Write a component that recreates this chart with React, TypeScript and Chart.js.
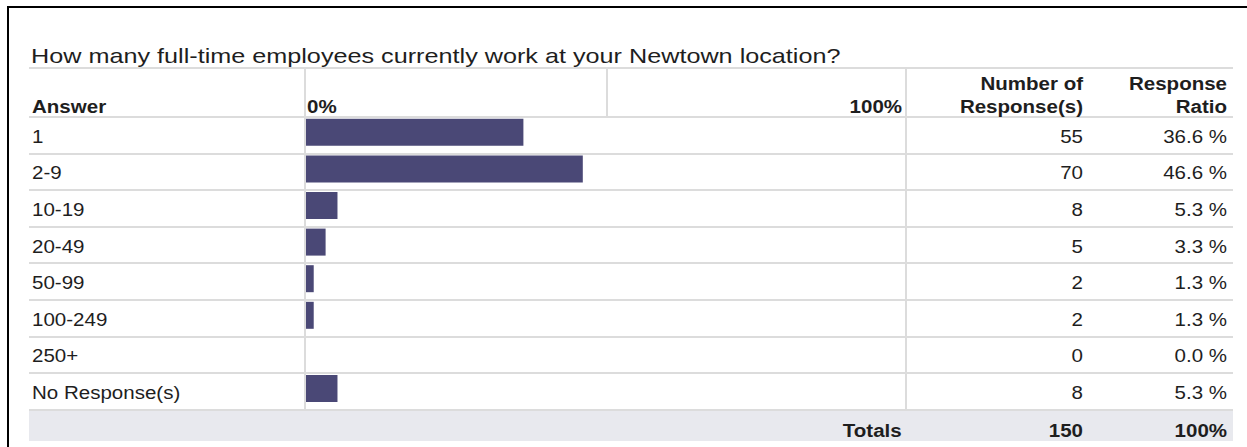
import React, { useEffect, useRef } from "react";
import { Chart, registerables } from "chart.js";

Chart.register(...registerables);

const TITLE = "How many full-time employees currently work at your Newtown location?";
const categories = ["1", "2-9", "10-19", "20-49", "50-99", "100-249", "250+", "No Response(s)"];
const responseCounts = [55, 70, 8, 5, 2, 2, 0, 8];
const responseRatios = [36.6, 46.6, 5.3, 3.3, 1.3, 1.3, 0.0, 5.3];
const axisTickLabels = ["0%", "100%"];
const totalCount = 150;
const totalRatioLabel = "100%";

const FONT = '"Liberation Sans", Arial, Helvetica, sans-serif';
const TEXT = "#1e1e1e";
const LINE = "#dcdcdc";
const BAR = "#4a4876";

const TABLE_L = 29;
const TABLE_R = 1233;
const HEAD_TOP = 68;
const HEAD_BOT = 117;
const ROW_H = 36.6;
const TOT_TOP = HEAD_BOT + ROW_H * categories.length;
const TOT_BOT = 441;
const COL_BAR = 305;
const COL_MID = 607;
const COL_NUM = 906;
const BODY = 18;
const BODY_SX = 1.14;

type TxtProps = {
  text: string;
  x: number;
  baseline: number;
  size: number;
  sx: number;
  bold?: boolean;
  align?: "left" | "right";
};

function Txt({ text, x, baseline, size, sx, bold, align = "left" }: TxtProps) {
  const top = baseline - 0.8465 * size;
  const style: React.CSSProperties = {
    position: "absolute",
    top,
    fontFamily: FONT,
    fontSize: size,
    lineHeight: `${size}px`,
    fontWeight: bold ? 700 : 400,
    color: TEXT,
    whiteSpace: "nowrap",
    transform: `scaleX(${sx})`,
    transformOrigin: align === "left" ? "left center" : "right center",
  };
  if (align === "left") style.left = x;
  else style.right = 1247 - x;
  return <div style={style}>{text}</div>;
}

function HLine({ y, x1, x2 }: { y: number; x1: number; x2: number }) {
  return (
    <div style={{ position: "absolute", left: x1, top: y - 1, width: x2 - x1, height: 2, background: LINE }} />
  );
}

function VLine({ x, y1, y2 }: { x: number; y1: number; y2: number }) {
  return (
    <div style={{ position: "absolute", left: x - 1, top: y1, width: 2, height: y2 - y1, background: LINE }} />
  );
}

function BarChart() {
  const ref = useRef<HTMLCanvasElement | null>(null);
  useEffect(() => {
    if (!ref.current) return;
    const chart = new Chart(ref.current, {
      type: "bar",
      data: {
        labels: categories,
        datasets: [
          {
            data: responseRatios,
            backgroundColor: BAR,
            borderWidth: 0,
            barPercentage: 27 / ROW_H,
            categoryPercentage: 1,
          },
        ],
      },
      options: {
        indexAxis: "y",
        animation: false,
        responsive: true,
        maintainAspectRatio: false,
        layout: { padding: 0 },
        plugins: { legend: { display: false }, tooltip: { enabled: false }, title: { display: false } },
        scales: {
          x: { min: 0, max: 100, display: false, grid: { display: false } },
          y: { display: false, grid: { display: false } },
        },
      },
    });
    return () => chart.destroy();
  }, []);
  return (
    <div
      style={{
        position: "absolute",
        left: COL_BAR + 1,
        top: HEAD_BOT - 3.3,
        width: 594,
        height: ROW_H * categories.length,
      }}
    >
      <canvas ref={ref} />
    </div>
  );
}

export default function App() {
  const rowLines = categories.map((_, i) => HEAD_BOT + ROW_H * (i + 1));
  return (
    <div
      style={{
        position: "absolute",
        left: 0,
        top: 0,
        width: 1247,
        height: 447,
        background: "#fff",
        overflow: "hidden",
      }}
    >
      {/* outer frame */}
      <div
        style={{
          position: "absolute",
          left: 7,
          top: 6,
          width: 1260,
          height: 460,
          borderTop: "2px solid #000",
          borderLeft: "2px solid #000",
        }}
      />
      <Txt text={TITLE} x={31} baseline={63} size={21} sx={1.2} />

      {/* totals row background */}
      <div
        style={{
          position: "absolute",
          left: TABLE_L,
          top: TOT_TOP,
          width: TABLE_R - TABLE_L,
          height: TOT_BOT - TOT_TOP,
          background: "#e8e9ee",
        }}
      />

      {/* grid lines */}
      <HLine y={HEAD_TOP} x1={TABLE_L} x2={TABLE_R} />
      <HLine y={HEAD_BOT} x1={TABLE_L} x2={TABLE_R} />
      {rowLines.map((y, i) => (
        <HLine key={i} y={y} x1={TABLE_L} x2={TABLE_R} />
      ))}
      <VLine x={COL_BAR} y1={HEAD_TOP} y2={TOT_TOP} />
      <VLine x={COL_MID} y1={HEAD_TOP} y2={HEAD_BOT} />
      <VLine x={COL_NUM} y1={HEAD_TOP} y2={TOT_TOP} />

      {/* header */}
      <Txt text="Answer" x={32} baseline={113} size={BODY} sx={BODY_SX} bold />
      <Txt text={axisTickLabels[0]} x={307} baseline={113} size={BODY} sx={BODY_SX} bold />
      <Txt text={axisTickLabels[1]} x={902} baseline={113} size={BODY} sx={BODY_SX} bold align="right" />
      <Txt text="Number of" x={1083} baseline={90} size={BODY} sx={BODY_SX} bold align="right" />
      <Txt text="Response(s)" x={1083} baseline={113} size={BODY} sx={BODY_SX} bold align="right" />
      <Txt text="Response" x={1227} baseline={90} size={BODY} sx={BODY_SX} bold align="right" />
      <Txt text="Ratio" x={1227} baseline={113} size={BODY} sx={BODY_SX} bold align="right" />

      {/* rows */}
      {categories.map((c, i) => {
        const b = HEAD_BOT + ROW_H * (i + 1) - 10.5;
        return (
          <React.Fragment key={c}>
            <Txt text={c} x={32} baseline={b} size={BODY} sx={BODY_SX} />
            <Txt text={String(responseCounts[i])} x={1083} baseline={b} size={BODY} sx={BODY_SX} align="right" />
            <Txt
              text={`${responseRatios[i].toFixed(1)} %`}
              x={1227}
              baseline={b}
              size={BODY}
              sx={BODY_SX}
              align="right"
            />
          </React.Fragment>
        );
      })}

      {/* totals */}
      <Txt text="Totals" x={902} baseline={437} size={BODY} sx={BODY_SX} bold align="right" />
      <Txt text={String(totalCount)} x={1083} baseline={437} size={BODY} sx={BODY_SX} bold align="right" />
      <Txt text={totalRatioLabel} x={1227} baseline={437} size={BODY} sx={BODY_SX} bold align="right" />

      <BarChart />
    </div>
  );
}
